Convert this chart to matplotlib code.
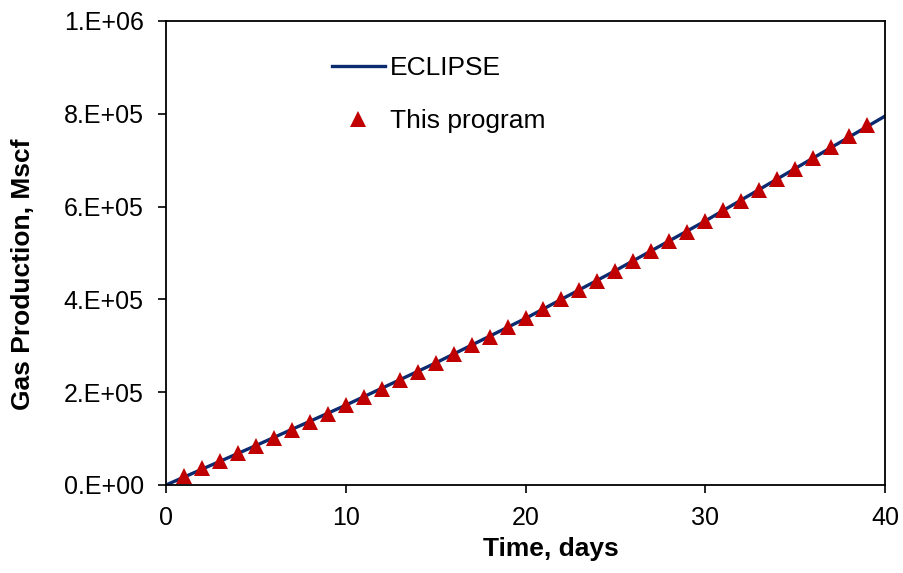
import matplotlib
matplotlib.use("Agg")

import matplotlib.pyplot as plt
from matplotlib.ticker import FuncFormatter

plt.rcParams["font.family"] = ["Liberation Sans", "DejaVu Sans"]

# simulator reference curve (days, Mscf)
eclipse_days = [0, 5, 10, 15, 20, 25, 30, 35, 40]
eclipse_gas = [0, 85e3, 172e3, 263e3, 359e3, 462e3, 569e3, 682e3, 795e3]

# results from this program, one point per day
prog_days = list(range(1, 40))
prog_gas = [19e3, 36e3, 52e3, 68e3, 85e3, 102e3, 118e3, 136e3, 153e3, 172e3,
            190e3, 207e3, 226e3, 244e3, 263e3, 282e3, 301e3, 320e3, 340e3, 359e3,
            380e3, 400e3, 420e3, 440e3, 462e3, 483e3, 504e3, 525e3, 546e3, 569e3,
            592e3, 613e3, 636e3, 659e3, 682e3, 705e3, 728e3, 752e3, 776e3]

x_ticks = [0, 10, 20, 30, 40]
y_ticks = [0, 2e5, 4e5, 6e5, 8e5, 1e6]


def sci_fmt(v, pos):
    if v == 0:
        return "0.E+00"
    exp = len(str(int(v))) - 1
    return "%d.E+%02d" % (round(v / 10**exp), exp)


fig = plt.figure(figsize=(9.04, 5.73), dpi=100)
ax = fig.add_axes([166/904, 1 - 485/573, (885-166)/904, (485-21)/573])

ax.plot(eclipse_days, eclipse_gas, color="#0B2A6F", lw=2.4, label="ECLIPSE", zorder=2)
ax.plot(prog_days, prog_gas, "^", color="#C00000", ms=11, mew=0, label="This program", zorder=3)

ax.set_xlim(0, 40)
ax.set_ylim(0, 1e6)
ax.set_xticks(x_ticks)
ax.set_yticks(y_ticks)
ax.yaxis.set_major_formatter(FuncFormatter(sci_fmt))
ax.tick_params(direction="out", length=6, width=1.2, labelsize=18)
ax.tick_params(axis="y", pad=10)
ax.tick_params(axis="x", pad=9)
for s in ax.spines.values():
    s.set_linewidth(1.3)

ax.set_xlabel("Time, days", fontsize=19, fontweight="bold")
ax.set_ylabel("Gas Production, Mscf", fontsize=19, fontweight="bold")
ax.xaxis.set_label_coords(0.5355, -0.112)
ax.yaxis.set_label_coords(-0.182, 0.455)

ax.legend(loc="upper left", bbox_to_anchor=(0.231, 0.924), frameon=False, fontsize=19,
          numpoints=1, handlelength=2.0, handletextpad=0.2, labelspacing=1.08,
          borderpad=0, borderaxespad=0)

fig.savefig("out.png", dpi=100)
